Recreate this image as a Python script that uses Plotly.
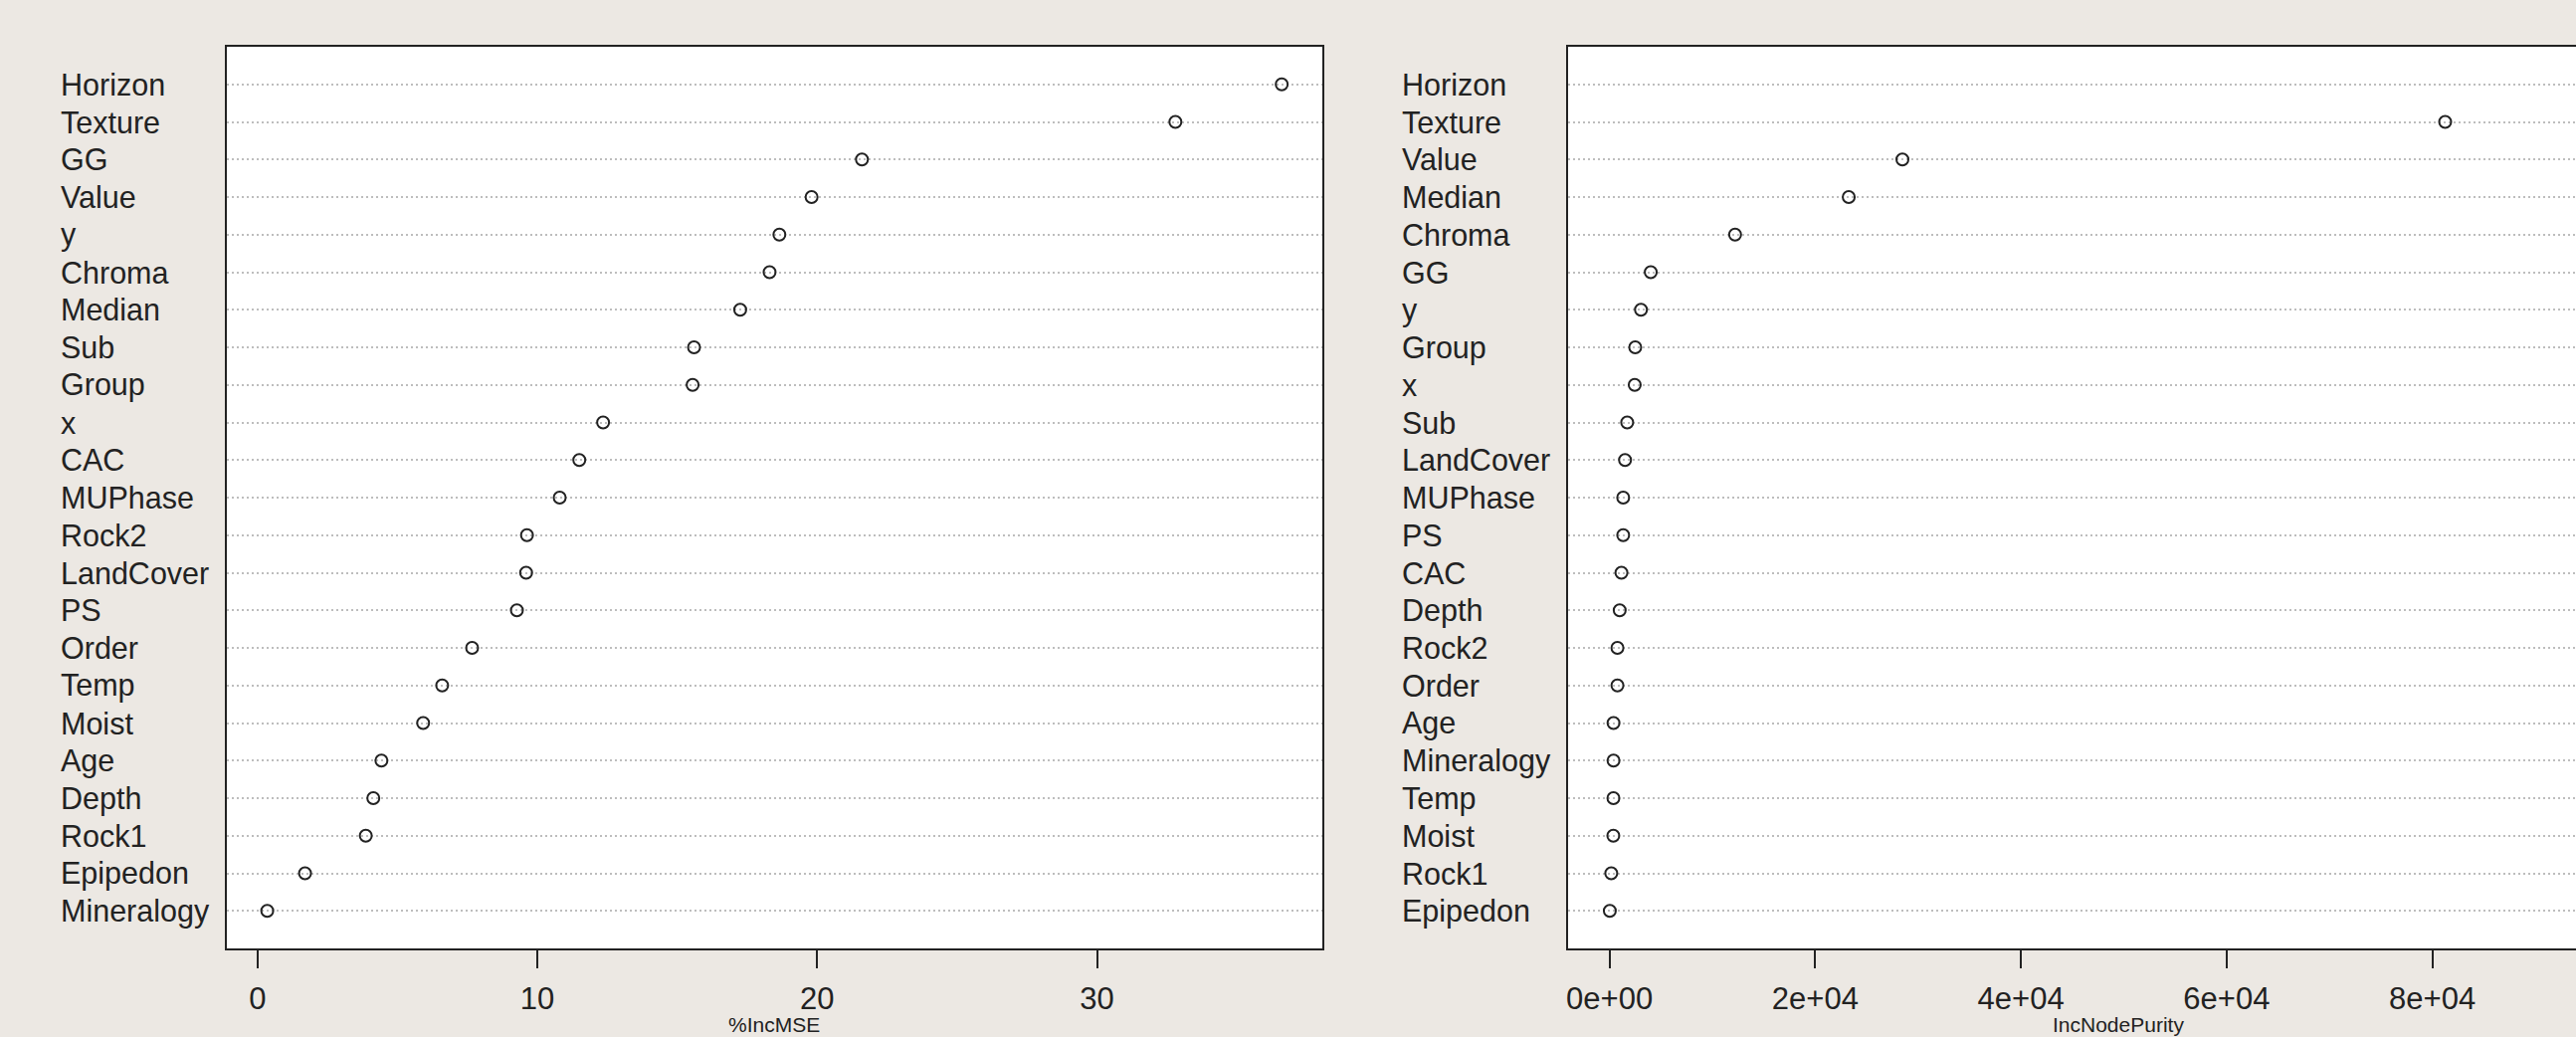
import plotly.graph_objects as go

W, H = 2589, 1042

# ---- data (top row first) ----
mse_labels = ["Horizon", "Texture", "GG", "Value", "y", "Chroma", "Median", "Sub",
              "Group", "x", "CAC", "MUPhase", "Rock2", "LandCover", "PS", "Order",
              "Temp", "Moist", "Age", "Depth", "Rock1", "Epipedon", "Mineralogy"]
mse_values = [36.6, 32.8, 21.6, 19.8, 18.65, 18.3, 17.25, 15.6,
              15.55, 12.35, 11.5, 10.8, 9.63, 9.6, 9.27, 7.67,
              6.6, 5.92, 4.43, 4.14, 3.87, 1.7, 0.35]
mse_ticks = [0, 10, 20, 30]
mse_ticktext = ["0", "10", "20", "30"]
mse_title = "%IncMSE"

purity_labels = ["Horizon", "Texture", "Value", "Median", "Chroma", "GG", "y", "Group",
                 "x", "Sub", "LandCover", "MUPhase", "PS", "CAC", "Depth", "Rock2",
                 "Order", "Age", "Mineralogy", "Temp", "Moist", "Rock1", "Epipedon"]
purity_values = [102000, 81250, 28480, 23260, 12210, 4010, 3060, 2500,
                 2450, 1720, 1510, 1330, 1330, 1160, 990, 770,
                 770, 390, 390, 380, 370, 170, 30]
purity_ticks = [0, 20000, 40000, 60000, 80000]
purity_ticktext = ["0e+00", "2e+04", "4e+04", "6e+04", "8e+04"]
purity_title = "IncNodePurity"

FONT = "Liberation Sans, Arial, sans-serif"
INK = "#222222"
BG = "#ece8e3"

fig = go.Figure()

marker = dict(symbol="circle-open", size=12, color=INK, line=dict(width=2, color=INK))
fig.add_trace(go.Scatter(x=mse_values, y=mse_labels, mode="markers",
                         xaxis="x", yaxis="y", marker=marker, showlegend=False,
                         cliponaxis=True))
fig.add_trace(go.Scatter(x=purity_values, y=purity_labels, mode="markers",
                         xaxis="x2", yaxis="y2", marker=marker, showlegend=False,
                         cliponaxis=True))

# dotchart-style range: 4% padding
lo1 = min(mse_values) - 0.04 * (max(mse_values) - min(mse_values))
hi1 = max(mse_values) + 0.04 * (max(mse_values) - min(mse_values))
lo2 = min(purity_values) - 0.04 * (max(purity_values) - min(purity_values))
hi2 = lo2 + 98020  # right part of panel is cropped at the image edge

left_dom = [226 / W, 1328 / W]
right_dom = [1575 / W, 1.0]

def xaxis_style(dom, rng, tv, tt, anchor):
    return dict(domain=dom, range=rng, anchor=anchor, tickmode="array",
                tickvals=tv, ticktext=tt, ticks="outside", ticklen=18,
                tickwidth=2, tickcolor=INK, showgrid=False, zeroline=False,
                showline=True, linecolor=INK, linewidth=2, mirror=True,
                tickfont=dict(family=FONT, size=31, color=INK),
                ticklabelstandoff=4)

def yaxis_style(labels, anchor, mirror):
    return dict(domain=[0, 1], anchor=anchor, type="category",
                categoryorder="array", categoryarray=labels[::-1],
                range=[-1, len(labels)], tickmode="array", tickvals=labels,
                showticklabels=False, ticks="", showgrid=True,
                gridcolor="#bdbdbd", gridwidth=2, griddash="2px,3px",
                zeroline=False, showline=True, linecolor=INK, linewidth=2,
                mirror=mirror)

annotations = []
for lab in mse_labels:
    annotations.append(dict(text=lab, xref="paper", yref="y", x=57 / W, y=lab,
                            xanchor="left", yanchor="middle", showarrow=False,
                            font=dict(family=FONT, size=30.5, color=INK)))
for lab in purity_labels:
    annotations.append(dict(text=lab, xref="paper", yref="y2", x=1406 / W, y=lab,
                            xanchor="left", yanchor="middle", showarrow=False,
                            font=dict(family=FONT, size=30.5, color=INK)))

plot_h = 953 - 47
title_y = (953 - 1029) / plot_h
annotations.append(dict(text=mse_title, xref="paper", yref="paper", x=777 / W,
                        y=title_y, xanchor="center", yanchor="middle", showarrow=False,
                        font=dict(family=FONT, size=21, color=INK)))
annotations.append(dict(text=purity_title, xref="paper", yref="paper", x=2129 / W,
                        y=title_y, xanchor="center", yanchor="middle", showarrow=False,
                        font=dict(family=FONT, size=21, color=INK)))

fig.update_layout(
    width=W, height=H,
    margin=dict(l=0, r=0, t=47, b=H - 953),
    paper_bgcolor=BG, plot_bgcolor="white",
    xaxis=xaxis_style(left_dom, [lo1, hi1], mse_ticks, mse_ticktext, "y"),
    yaxis=yaxis_style(mse_labels, "x", True),
    xaxis2=xaxis_style(right_dom, [lo2, hi2], purity_ticks, purity_ticktext, "y2"),
    yaxis2=yaxis_style(purity_labels, "x2", False),
    annotations=annotations,
)

fig.write_html("out.html")
